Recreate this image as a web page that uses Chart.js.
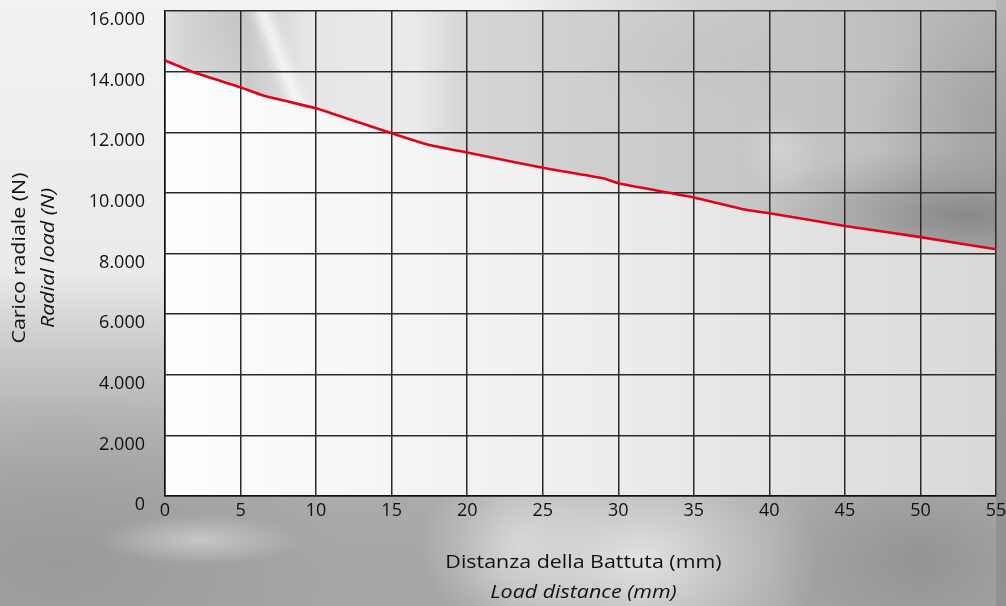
<!DOCTYPE html>
<html>
<head>
<meta charset="utf-8">
<script src="https://cdn.jsdelivr.net/npm/chart.js@4/dist/chart.umd.min.js"></script>
<style>
html,body{margin:0;padding:0;background:#b0b0b0;}
#wrap{position:relative;width:1006px;height:606px;}
canvas{display:block;}
</style>
</head>
<body>
<div id="wrap"><canvas id="c" width="1006" height="606"></canvas></div>
<script>
// Data
const distances = [0, 2, 5, 6.5, 10, 11, 15, 17.5, 20, 25, 29, 30, 35, 38.25, 40, 45, 50, 55];
const radialLoad = [14370, 13960, 13480, 13210, 12790, 12630, 11970, 11580, 11330, 10830, 10480, 10320, 9850, 9460, 9330, 8910, 8540, 8140];
const yTicks = [0, 2000, 4000, 6000, 8000, 10000, 12000, 14000, 16000];
const xTicks = [0, 5, 10, 15, 20, 25, 30, 35, 40, 45, 50, 55];
const yTitle = ['Carico radiale (N)', 'Radial load (N)'];
const xTitle = ['Distanza della Battuta (mm)', 'Load distance (mm)'];

const FONT = "'Open Sans', 'Noto Sans', sans-serif";

function fmt(v){
  const s = String(Math.round(v));
  return s.replace(/\B(?=(\d{3})+(?!\d))/g, '.');
}

function blob(ctx, x, y, rx, ry, color0, color1){
  ctx.save();
  ctx.translate(x, y);
  ctx.scale(1, ry / rx);
  const g = ctx.createRadialGradient(0, 0, 0, 0, 0, rx);
  g.addColorStop(0, color0);
  g.addColorStop(1, color1);
  ctx.fillStyle = g;
  ctx.fillRect(-rx, -rx, rx * 2, rx * 2);
  ctx.restore();
}

const backgroundPlugin = {
  id: 'bg',
  beforeDraw(chart){
    const ctx = chart.ctx;
    const W = chart.width, H = chart.height;
    const a = chart.chartArea;
    const pw = a.right - a.left, ph = a.bottom - a.top;
    ctx.save();
    // outer background
    ctx.fillStyle = '#a6a6a6';
    ctx.fillRect(0, 0, W, H);
    let g = ctx.createLinearGradient(0, 0, 0, H);
    g.addColorStop(0, 'rgba(242,242,242,1)');
    g.addColorStop(0.45, 'rgba(238,238,238,0.95)');
    g.addColorStop(0.68, 'rgba(205,205,205,0.45)');
    g.addColorStop(1, 'rgba(160,160,160,0)');
    ctx.fillStyle = g;
    ctx.fillRect(0, 0, W, H);
    // top strip right part gray
    g = ctx.createLinearGradient(500, 0, W, 0);
    g.addColorStop(0, 'rgba(205,205,205,0)');
    g.addColorStop(0.4, 'rgba(205,205,205,0.9)');
    g.addColorStop(1, 'rgba(190,190,190,1)');
    ctx.fillStyle = g;
    ctx.fillRect(500, 0, W - 500, 20);
    // darker right side
    g = ctx.createLinearGradient(0, 0, 0, H);
    g.addColorStop(0, 'rgba(180,180,180,1)');
    g.addColorStop(0.3, 'rgba(152,152,152,1)');
    g.addColorStop(1, 'rgba(145,145,145,1)');
    ctx.fillStyle = g;
    ctx.fillRect(a.right, 0, W - a.right, H);
    // lower left gray
    blob(ctx, 60, 560, 280, 170, 'rgba(150,150,150,0.75)', 'rgba(150,150,150,0)');
    blob(ctx, 200, 540, 100, 25, 'rgba(205,205,205,0.85)', 'rgba(205,205,205,0)');
    // bottom center light streaks
    blob(ctx, 640, 560, 180, 120, 'rgba(230,230,230,0.95)', 'rgba(225,225,225,0)');
    blob(ctx, 520, 545, 100, 90, 'rgba(228,228,228,0.7)', 'rgba(228,228,228,0)');
    blob(ctx, 920, 560, 150, 110, 'rgba(140,140,140,0.7)', 'rgba(140,140,140,0)');

    // plot area: below-line gradient
    g = ctx.createLinearGradient(a.left, 0, a.right, 0);
    g.addColorStop(0, '#fefefe');
    g.addColorStop(0.18, '#f8f8f8');
    g.addColorStop(0.48, '#efefef');
    g.addColorStop(0.76, '#e3e3e3');
    g.addColorStop(1, '#d9d9d9');
    ctx.fillStyle = g;
    ctx.fillRect(a.left, a.top, pw, ph);

    // above-line photographic gray, clipped to the region above the data line
    const pts = chart.getDatasetMeta(0).data;
    if (pts.length){
      ctx.save();
      ctx.beginPath();
      ctx.moveTo(a.left, a.top);
      ctx.lineTo(pts[0].x, pts[0].y);
      for (let i = 1; i < pts.length; i++){
        const p0 = pts[i - 1], p1 = pts[i];
        if (p0.cp2x !== undefined && p1.cp1x !== undefined){
          ctx.bezierCurveTo(p0.cp2x, p0.cp2y, p1.cp1x, p1.cp1y, p1.x, p1.y);
        } else {
          ctx.lineTo(p1.x, p1.y);
        }
      }
      ctx.lineTo(a.right, a.top);
      ctx.closePath();
      ctx.clip();
      g = ctx.createLinearGradient(a.left, 0, a.right, 0);
      g.addColorStop(0, '#e2e2e2');
      g.addColorStop(0.025, '#d3d3d3');
      g.addColorStop(0.09, '#c6c6c6');
      g.addColorStop(0.17, '#e6e6e6');
      g.addColorStop(0.3, '#eaeaea');
      g.addColorStop(0.36, '#d5d5d5');
      g.addColorStop(0.6, '#cbcbcb');
      g.addColorStop(0.85, '#c0c0c0');
      g.addColorStop(1, '#b0b0b0');
      ctx.fillStyle = g;
      ctx.fillRect(a.left, a.top, pw, ph);
      // vertical fade in the top-left cell
      g = ctx.createLinearGradient(0, a.top, 0, a.top + 110);
      g.addColorStop(0, 'rgba(200,200,200,0)');
      g.addColorStop(1, 'rgba(235,235,235,0.6)');
      ctx.fillStyle = g;
      ctx.fillRect(a.left, a.top, 80, 110);
      // diagonal white streak
      ctx.save();
      ctx.filter = 'blur(5px)';
      ctx.strokeStyle = 'rgba(246,246,246,0.95)';
      ctx.lineWidth = 14;
      ctx.beginPath();
      ctx.moveTo(258, a.top - 10);
      ctx.lineTo(305, a.top + 110);
      ctx.stroke();
      ctx.restore();
      // darker region top-right, near the line
      blob(ctx, 965, 215, 210, 70, 'rgba(128,128,128,0.85)', 'rgba(140,140,140,0)');
      blob(ctx, 990, 120, 120, 110, 'rgba(150,150,150,0.5)', 'rgba(150,150,150,0)');
      blob(ctx, 780, 150, 40, 40, 'rgba(232,232,232,0.35)', 'rgba(232,232,232,0)');
      blob(ctx, 700, 60, 120, 50, 'rgba(190,190,190,0.35)', 'rgba(190,190,190,0)');
      ctx.restore();
    }
    ctx.restore();
  },
  afterDraw(chart){
    const ctx = chart.ctx;
    const a = chart.chartArea;
    const sx = 1.19;
    ctx.save();
    ctx.fillStyle = '#111';
    ctx.textAlign = 'center';
    ctx.textBaseline = 'middle';
    const cx = (a.left + a.right) / 2 + 3;
    ctx.save();
    ctx.translate(cx, 0);
    ctx.scale(sx, 1);
    ctx.font = '18px ' + FONT;
    ctx.fillText(xTitle[0], 0, 563);
    ctx.font = 'italic 18px ' + FONT;
    ctx.fillText(xTitle[1], 0, 593);
    ctx.restore();
    ctx.translate(0, 258);
    ctx.rotate(-Math.PI / 2);
    ctx.scale(sx, 1);
    ctx.font = '18px ' + FONT;
    ctx.fillText(yTitle[0], 0, 20);
    ctx.font = 'italic 18px ' + FONT;
    ctx.fillText(yTitle[1], 0, 49);
    ctx.restore();
  }
};

new Chart(document.getElementById('c'), {
  type: 'line',
  data: {
    datasets: [{
      data: distances.map((d, i) => ({x: d, y: radialLoad[i]})),
      borderColor: '#e2001a',
      borderWidth: 2.6,
      pointRadius: 0,
      tension: 0.15,
      fill: false
    }]
  },
  options: {
    responsive: false,
    animation: false,
    layout: {padding: {left: 0, right: 10, top: 11, bottom: 0}},
    plugins: {legend: {display: false}, tooltip: {enabled: false}},
    scales: {
      x: {
        type: 'linear',
        min: 0, max: 55,
        afterBuildTicks(axis){ axis.ticks = xTicks.map(v => ({value: v})); },
        afterFit(axis){ axis.height = 110; axis.paddingLeft = 0; axis.paddingRight = 0; },
        grid: {color: '#2a2a2a', lineWidth: 1.5, drawTicks: false},
        border: {color: '#111', width: 1.5},
        ticks: {color: '#111', font: {family: FONT, size: 18}, padding: 4, maxRotation: 0, callback: v => String(v)}
      },
      y: {
        min: 0, max: 16000,
        afterBuildTicks(axis){ axis.ticks = yTicks.map(v => ({value: v})); },
        afterFit(axis){ axis.width = 165; axis.paddingTop = 0; axis.paddingBottom = 0; },
        grid: {color: '#2a2a2a', lineWidth: 1.5, drawTicks: false},
        border: {color: '#111', width: 1.5},
        ticks: {color: '#111', font: {family: FONT, size: 18}, padding: 20, labelOffset: 9, callback: v => fmt(v)}
      }
    }
  },
  plugins: [backgroundPlugin]
});
</script>
</body>
</html>
